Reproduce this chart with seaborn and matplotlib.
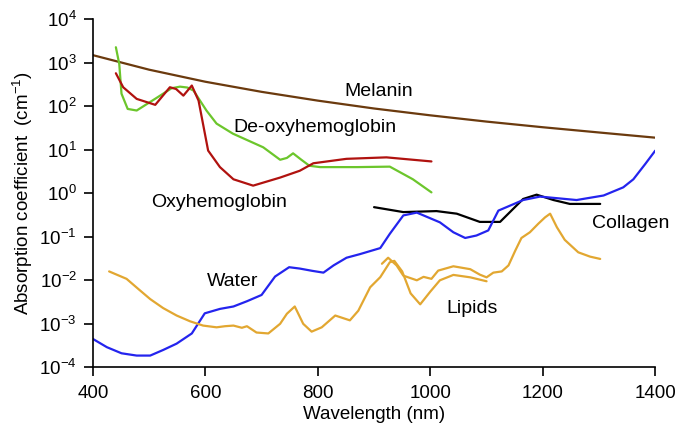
import numpy as np
import pandas as pd
import matplotlib
matplotlib.use("Agg")
import matplotlib.pyplot as plt
import seaborn as sns
from matplotlib.ticker import LogLocator, NullLocator, FixedLocator

# ---------------- data ----------------
melanin_wl = [400, 500, 600, 700, 800, 900, 1000, 1100, 1200, 1300, 1400]
melanin_mu = [1500, 695, 367, 215, 135, 89, 62, 44.5, 33, 25, 19]

deoxy_wl = [441, 447, 451, 462, 478, 514, 540, 555, 568, 579, 602, 620, 649, 703,
            733, 745, 756, 770, 785, 804, 870, 928, 969, 1002]
deoxy_mu = [2280, 940, 195, 87, 80, 158, 260, 283, 270, 230, 80, 40, 23.5, 11.4,
            5.9, 6.5, 8.3, 6.0, 4.3, 4.0, 4.0, 4.1, 2.1, 1.05]

oxy_wl = [441, 454, 478, 511, 537, 548, 561, 576, 588, 605, 626, 650, 685, 733,
          768, 792, 851, 922, 1002]
oxy_mu = [575, 274, 148, 108, 274, 250, 176, 300, 135, 9.6, 4.0, 2.1, 1.5, 2.3,
          3.3, 4.9, 6.2, 6.7, 5.4]

collagen_wl = [900, 952, 1011, 1047, 1088, 1124, 1165, 1189, 1219, 1248, 1302]
collagen_mu = [0.48, 0.37, 0.39, 0.34, 0.22, 0.22, 0.74, 0.93, 0.70, 0.57, 0.57]

water_wl = [400, 425, 451, 478, 502, 525, 549, 576, 599, 626, 650, 674, 700, 724,
            749, 768, 790, 810, 828, 851, 875, 911, 928, 952, 976, 1017, 1041,
            1062, 1082, 1103, 1121, 1165, 1195, 1260, 1308, 1343, 1361, 1382, 1400]
water_mu = [4.5e-4, 2.9e-4, 2.1e-4, 1.86e-4, 1.86e-4, 2.5e-4, 3.5e-4, 6e-4, 1.74e-3,
            2.2e-3, 2.5e-3, 3.3e-3, 4.6e-3, 0.0122, 0.020, 0.0186, 0.0165, 0.015,
            0.022, 0.033, 0.040, 0.055, 0.117, 0.31, 0.36, 0.215, 0.127, 0.094,
            0.107, 0.14, 0.40, 0.70, 0.84, 0.70, 0.89, 1.37, 2.1, 4.7, 9.6]

lipid_a_wl = [429, 460, 481, 502, 525, 549, 573, 596, 620, 635, 650, 665, 674, 691,
              712, 733, 745, 759, 774, 789, 807, 831, 857, 872, 893, 911, 928, 936,
              950, 965, 982, 1000, 1017, 1041, 1071, 1100]
lipid_a_mu = [0.016, 0.0108, 6.3e-3, 3.7e-3, 2.3e-3, 1.55e-3, 1.14e-3, 9.1e-4, 8.3e-4,
              8.8e-4, 9.1e-4, 8.1e-4, 8.8e-4, 6.3e-4, 6.0e-4, 1.0e-3, 1.7e-3, 2.5e-3,
              1.0e-3, 6.6e-4, 8.3e-4, 1.55e-3, 1.2e-3, 2.0e-3, 6.9e-3, 0.0118, 0.026,
              0.028, 0.016, 5.0e-3, 2.8e-3, 5.5e-3, 0.010, 0.0133, 0.0117, 0.0095]

lipid_b_wl = [914, 925, 940, 952, 976, 988, 1002, 1014, 1041, 1071, 1088, 1100, 1112,
              1127, 1139, 1151, 1162, 1177, 1192, 1204, 1213, 1225, 1239, 1263, 1284, 1302]
lipid_b_mu = [0.024, 0.033, 0.022, 0.0128, 0.010, 0.012, 0.0108, 0.0167, 0.021, 0.018,
              0.0135, 0.0117, 0.015, 0.016, 0.022, 0.048, 0.094, 0.127, 0.20, 0.28,
              0.34, 0.166, 0.085, 0.044, 0.035, 0.031]

x_ticks = [400, 600, 800, 1000, 1200, 1400]

# ---------------- style ----------------
sns.set_style("ticks")
plt.rcParams["font.family"] = ["Liberation Sans", "DejaVu Sans"]
plt.rcParams["mathtext.fontset"] = "custom"
plt.rcParams["mathtext.rm"] = "Liberation Sans"
plt.rcParams["mathtext.it"] = "Liberation Sans:italic"
plt.rcParams["mathtext.bf"] = "Liberation Sans:bold"
plt.rcParams["mathtext.default"] = "regular"
plt.rcParams["axes.unicode_minus"] = False
plt.rcParams["text.color"] = "black"
plt.rcParams["axes.labelcolor"] = "black"
plt.rcParams["xtick.color"] = "black"
plt.rcParams["ytick.color"] = "black"

fig = plt.figure(figsize=(6.76, 4.26), dpi=100)
ax = fig.add_axes([0.1373, 0.1378, 0.9694 - 0.1373, 0.9547 - 0.1378])

lw = 1.6
series = [
    (melanin_wl, melanin_mu, "#6B3A0E"),
    (deoxy_wl, deoxy_mu, "#6CC62C"),
    (oxy_wl, oxy_mu, "#B0120F"),
    (collagen_wl, collagen_mu, "#000000"),
    (water_wl, water_mu, "#2424EE"),
    (lipid_a_wl, lipid_a_mu, "#E2A731"),
    (lipid_b_wl, lipid_b_mu, "#E2A731"),
]
for wl, mu, col in series:
    df = pd.DataFrame({"wl": wl, "mu": mu})
    sns.lineplot(data=df, x="wl", y="mu", ax=ax, color=col, lw=lw,
                 sort=False, estimator=None)

ax.set_yscale("log")
ax.set_xlim(400, 1400)
ax.set_ylim(1e-4, 1e4)
ax.xaxis.set_major_locator(FixedLocator(x_ticks))
ax.yaxis.set_major_locator(LogLocator(base=10, numticks=20))
ax.yaxis.set_minor_locator(NullLocator())
ax.xaxis.set_minor_locator(NullLocator())

for s in ["top", "right"]:
    ax.spines[s].set_visible(False)
for s in ["left", "bottom"]:
    ax.spines[s].set_linewidth(1.2)
    ax.spines[s].set_color("black")
ax.tick_params(axis="both", direction="out", length=6.5, width=1.2,
               labelsize=13.5, colors="black")
ax.tick_params(axis="x", pad=6)
ax.tick_params(axis="y", pad=5)

ax.set_xlabel("Wavelength (nm)", fontsize=13.5, labelpad=3)
ax.set_ylabel("Absorption coefficient  (cm$^{-1}$)", fontsize=13.5, labelpad=3)

fs = 14
ax.text(909, 218, "Melanin", fontsize=fs, ha="center", va="center")
ax.text(795, 32, "De-oxyhemoglobin", fontsize=fs, ha="center", va="center")
ax.text(625, 0.6, "Oxyhemoglobin", fontsize=fs, ha="center", va="center")
ax.text(648, 9.5e-3, "Water", fontsize=fs, ha="center", va="center")
ax.text(1074, 2.2e-3, "Lipids", fontsize=fs, ha="center", va="center")
ax.text(1357, 0.2, "Collagen", fontsize=fs, ha="center", va="center")

fig.savefig("out.png", dpi=100)
